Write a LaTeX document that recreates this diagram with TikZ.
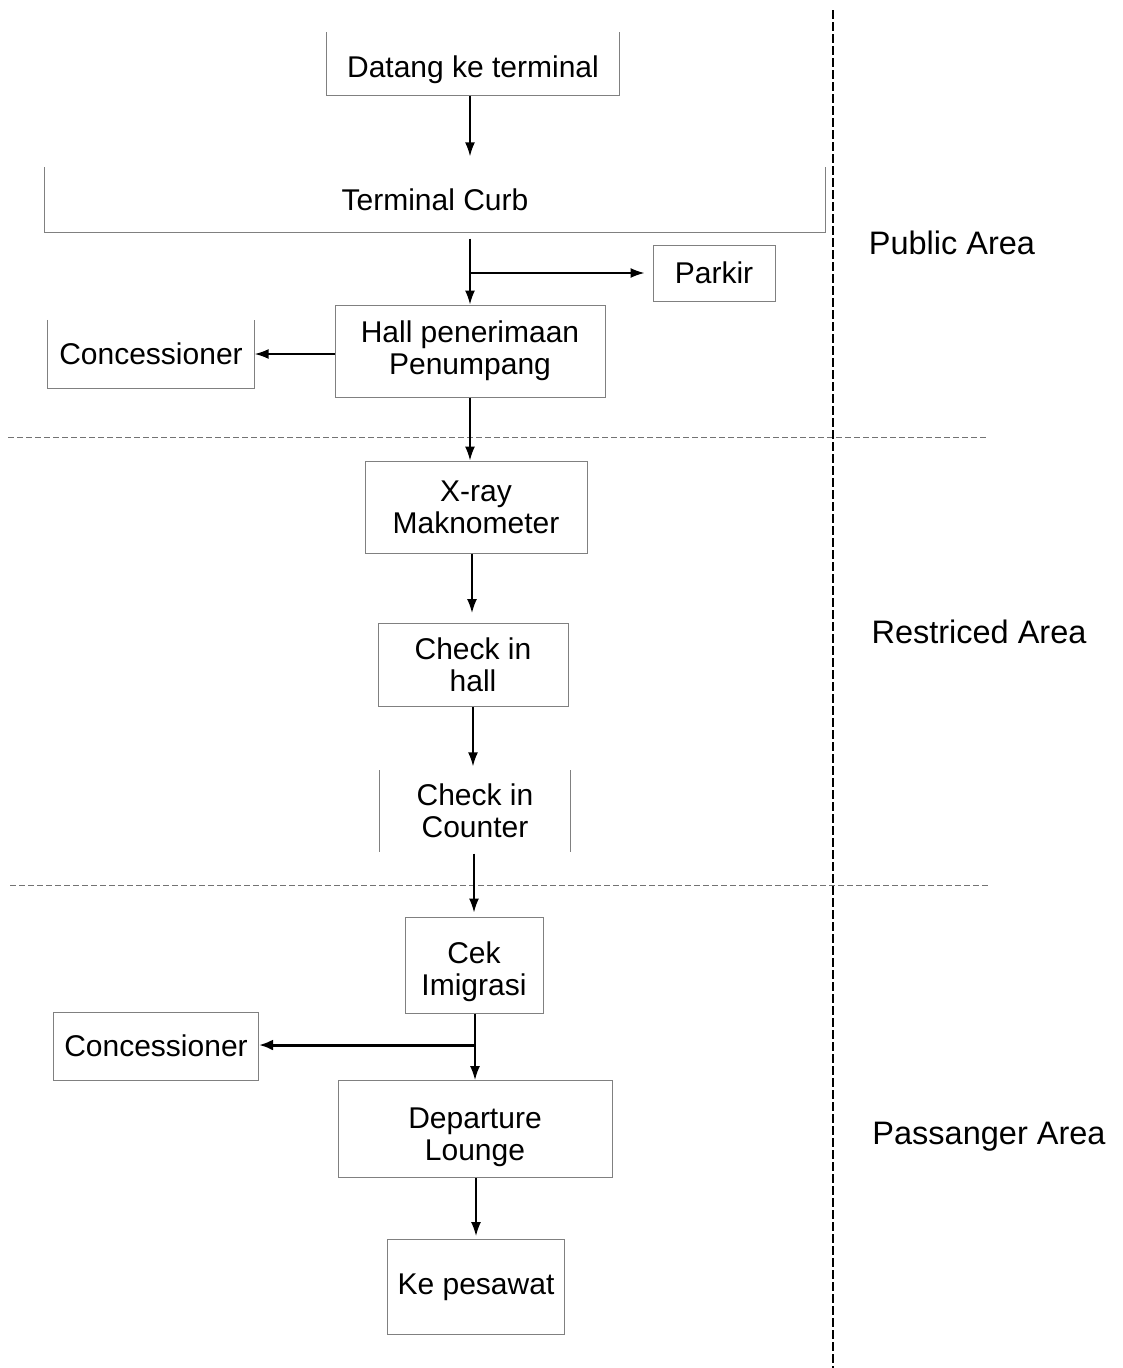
\documentclass[tikz,border=0pt]{standalone}
\usepackage{fontspec}
\setmainfont{Liberation Sans}
\usetikzlibrary{arrows.meta}
% strut that lowers a node's text by half of the extra height it adds
\newcommand{\lowerby}[1]{\rule{0pt}{\dimexpr 21.5pt+2\dimexpr #1\relax\relax}}
\begin{document}
\begin{tikzpicture}[x=1pt,y=-1pt,
  boxline/.style={draw=black!50,line width=1pt},
  stepbox/.style={boxline,rectangle,align=center,inner sep=0pt,
    font=\fontsize{30}{32}\selectfont},
  openbox/.style={rectangle,align=center,inner sep=0pt,
    font=\fontsize{30}{32}\selectfont},
  arr/.style={line width=1.6pt,-{Latex[length=14pt,width=10pt]}},
  thickarr/.style={line width=3pt,-{Latex[length=14pt,width=11pt]}},
  zone/.style={font=\fontsize{32.5}{35}\selectfont,anchor=center},
  sepline/.style={draw=black!55,line width=1pt,dash pattern=on 6pt off 3pt},
  divider/.style={draw=black,line width=2pt,dash pattern=on 9pt off 3pt}]
\useasboundingbox (0,0) rectangle (1122,1368);

% zone separators
\draw[sepline] (8,437) -- (988,437);
\draw[sepline] (10,885) -- (990,885);
\draw[divider] (833,10) -- (833,1368);

% zone labels
\node[zone] (zpub) at (952,243) {Public Area};
\node[zone] (zres) at (979,632) {Restriced Area};
\node[zone] (zpas) at (989,1137) {Passanger Area};

% process steps
\node[openbox,minimum width=292,minimum height=63] (datang) at (473,64) {\lowerby{6pt}Datang ke terminal};
\draw[boxline] (datang.north west) -- (datang.south west) -- (datang.south east) -- (datang.north east);

\node[openbox,minimum width=780,minimum height=65] (curb) at (435,200) {Terminal Curb};
\draw[boxline] (curb.north west) -- (curb.south west) -- (curb.south east) -- (curb.north east);

\node[stepbox,minimum width=122,minimum height=56] (parkir) at (714,273) {Parkir};
\node[stepbox,minimum width=270,minimum height=92] (hall) at (470,351) {Hall penerimaan\\Penumpang};

\node[openbox,minimum width=207,minimum height=68] (concA) at (151,354) {Concessioner};
\draw[boxline] (concA.north west) -- (concA.south west) -- (concA.south east) -- (concA.north east);

\node[stepbox,minimum width=222,minimum height=92] (xray) at (476,507) {X-ray\\Maknometer};
\node[stepbox,minimum width=190,minimum height=83] (chall) at (473,665) {Check in\\hall};

\node[openbox,minimum width=190,minimum height=81] (counter) at (475,811) {Check in\\Counter};
\draw[boxline] (counter.north west) -- (counter.south west);
\draw[boxline] (counter.north east) -- (counter.south east);

\node[stepbox,minimum width=138,minimum height=96] (cek) at (474,965) {\lowerby{7pt}Cek\\Imigrasi};
\node[stepbox,minimum width=205,minimum height=68] (concB) at (156,1046) {Concessioner};
\node[stepbox,minimum width=274,minimum height=97] (dep) at (475,1129) {\lowerby{7.5pt}Departure\\Lounge};
\node[stepbox,minimum width=177,minimum height=95,text depth=6pt] (ke) at (476,1287) {Ke pesawat};

% connectors
\draw[arr,shorten >=11pt] (datang.south -| 470,0) -- (curb.north -| 470,0);
\draw[arr,shorten <=6pt] (curb.south -| hall.north) -- (hall.north);
\coordinate (jpark) at (hall.north |- parkir.west);
\draw[arr,shorten >=8pt] (jpark) -- (parkir.west);
\draw[arr] (hall.west |- concA.east) -- (concA.east);
\draw[arr] (hall.south) -- (hall.south |- xray.north);
\draw[arr,shorten >=10pt] (xray.south -| 472,0) -- (chall.north -| 472,0);
\draw[arr,shorten >=4pt] (chall.south -| 473,0) -- (counter.north -| 473,0);
\draw[arr,shorten <=2pt,shorten >=4pt] (counter.south -| 474,0) -- (cek.north -| 474,0);
\draw[arr] (cek.south -| 475,0) -- (dep.north -| 475,0);
\coordinate (jconc) at (475,1045);
\draw[thickarr] (jconc) -- (concB.east |- jconc);
\draw[arr,shorten >=3pt] (dep.south -| 476,0) -- (ke.north -| 476,0);
\end{tikzpicture}
\end{document}
